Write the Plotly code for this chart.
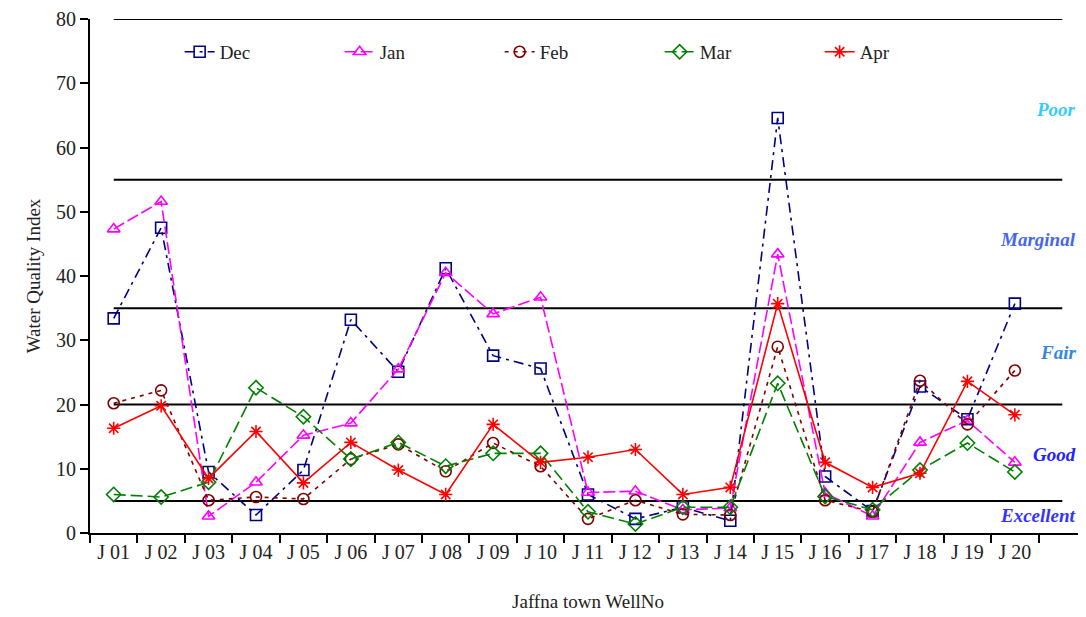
import plotly.graph_objects as go

wells = ["J 01", "J 02", "J 03", "J 04", "J 05", "J 06", "J 07", "J 08", "J 09", "J 10",
         "J 11", "J 12", "J 13", "J 14", "J 15", "J 16", "J 17", "J 18", "J 19", "J 20"]
blank_slot = [" "]

dec = [33.4, 47.5, 9.5, 2.8, 9.8, 33.2, 25.1, 41.2, 27.6, 25.6,
       6.0, 2.2, 4.0, 1.9, 64.6, 8.8, 3.4, 22.8, 17.7, 35.7]
jan = [47.3, 51.6, 2.6, 7.9, 15.2, 17.1, 25.5, 40.5, 34.1, 36.7,
       6.3, 6.5, 3.6, 3.9, 43.4, 6.2, 2.6, 14.1, 17.5, 11.0]
feb = [20.2, 22.2, 5.1, 5.6, 5.3, 11.5, 13.8, 9.6, 14.0, 10.4,
       2.2, 5.1, 2.9, 2.8, 29.0, 5.1, 3.3, 23.7, 16.9, 25.3]
mar = [6.0, 5.6, 7.9, 22.6, 18.1, 11.5, 14.1, 10.4, 12.4, 12.4,
       3.3, 1.4, 4.0, 4.0, 23.3, 5.7, 3.6, 9.8, 14.0, 9.5]
apr = [16.3, 19.8, 8.5, 15.8, 7.8, 14.1, 9.8, 6.0, 16.9, 11.0,
       11.8, 13.0, 6.0, 7.1, 35.7, 11.0, 7.1, 9.3, 23.6, 18.4]

class_limits = [80, 55, 35, 20, 5]
class_names = ["Poor", "Marginal", "Fair", "Good", "Excellent"]
class_label_y = [65.9, 45.7, 28.1, 12.2, 2.8]
class_colors = ["#33CCFF", "#4466EE", "#3388DD", "#2222FF", "#3333FF"]

FONT = "Liberation Serif, Times New Roman, serif"
TXT = "#222222"

fig = go.Figure()

all_slots = wells + blank_slot
for lim in class_limits:
    fig.add_trace(go.Scatter(
        x=all_slots, y=[lim] * len(all_slots), mode="lines",
        line=dict(color="black", width=2), showlegend=False, hoverinfo="skip"))

series = [
    ("Dec", dec, "#000080", "10px,5px,3px,5px", "square-open"),
    ("Jan", jan, "#FF00FF", "12px,4px", "triangle-up-open"),
    ("Feb", feb, "#800000", "4px,5px", "circle-open"),
    ("Mar", mar, "#008000", "12px,5px", "diamond-open"),
    ("Apr", apr, "#FF0000", "solid", "asterisk-open"),
]
for name, vals, col, dash, sym in series:
    fig.add_trace(go.Scatter(
        x=wells, y=vals, mode="lines+markers", name=name,
        line=dict(color=col, width=1.6, dash=dash),
        marker=dict(symbol=sym, size=11, color=col, line=dict(color=col, width=1.6))))

for name, yv, col in zip(class_names, class_label_y, class_colors):
    fig.add_annotation(x=0.992, xref="paper", y=yv, yref="y", text="<b><i>%s</i></b>" % name,
                       showarrow=False, xanchor="right", yanchor="middle",
                       font=dict(family=FONT, size=19, color=col))

fig.update_layout(
    width=1078, height=609,
    margin=dict(l=82, r=0, t=11, b=84),
    paper_bgcolor="white", plot_bgcolor="white",
    font=dict(family=FONT, size=19, color=TXT),
    showlegend=True,
    legend=dict(orientation="h", x=0.09, xanchor="left", y=0.936, yanchor="middle",
                bgcolor="rgba(0,0,0,0)", entrywidth=115, entrywidthmode="pixels",
                font=dict(family=FONT, size=19, color=TXT)),
    xaxis=dict(type="category", categoryorder="array", categoryarray=all_slots,
               range=[-0.5, 20.5], tickson="boundaries", ticks="outside", ticklen=8,
               tickwidth=2, tickcolor="black", showline=True, linecolor="black", linewidth=2,
               showgrid=False, zeroline=False, tickangle=0, automargin=False,
               tickfont=dict(family=FONT, size=20, color=TXT),
               title=dict(text="Jaffna town WellNo", standoff=33,
                          font=dict(family=FONT, size=19, color=TXT))),
    yaxis=dict(range=[0, 80], dtick=10, ticks="outside", ticklen=8, tickwidth=2,
               tickcolor="black", showline=True, linecolor="black", linewidth=2,
               showgrid=False, zeroline=False, ticklabeloverflow="allow", automargin=False,
               tickfont=dict(family=FONT, size=20, color=TXT),
               title=dict(text="Water Quality Index", standoff=10,
                          font=dict(family=FONT, size=19, color=TXT))),
)

fig.write_html("out.html")
